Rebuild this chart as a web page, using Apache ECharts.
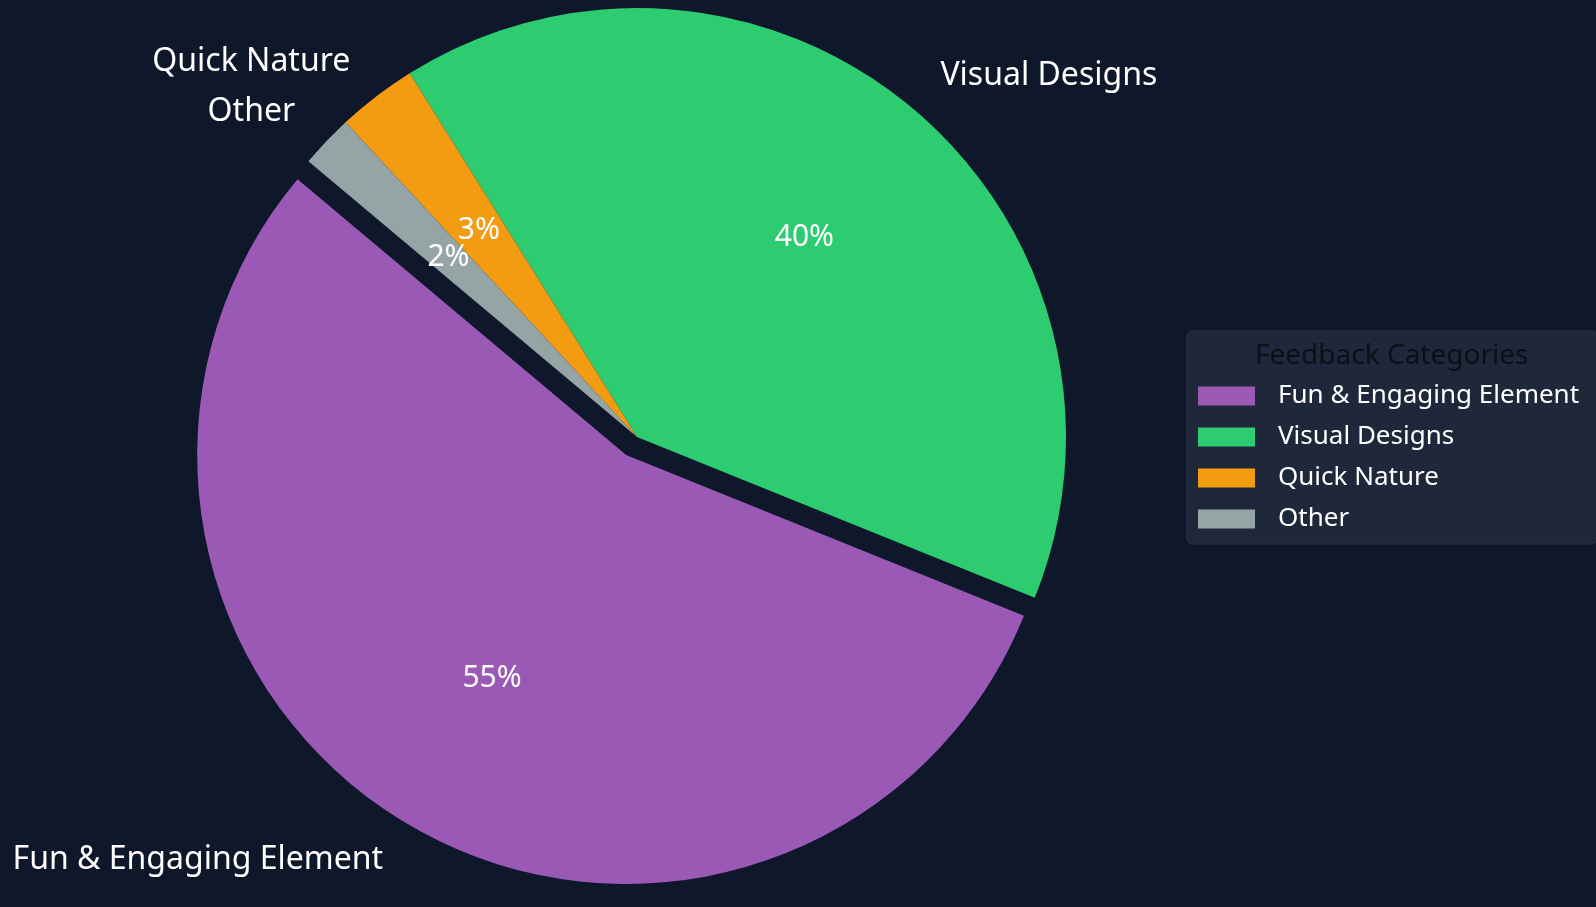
<!DOCTYPE html>
<html>
<head>
<meta charset="utf-8">
<script src="https://cdn.jsdelivr.net/npm/echarts@6/dist/echarts.min.js"></script>
<style>
  html, body { margin: 0; padding: 0; background: #0f172a; }
  #chart { width: 1596px; height: 907px; }
</style>
</head>
<body>
<div id="chart"></div>
<script>
// ---- data ----
const categories = ['Fun & Engaging Element', 'Visual Designs', 'Quick Nature', 'Other'];
const values = [55, 40, 3, 2];
const explodedCategory = 'Fun & Engaging Element';
const legendTitle = 'Feedback Categories';

// ---- styles ----
const palette = ['#9b59b6', '#2ecc71', '#f39c12', '#95a5a6'];
const FONT = 'Noto Sans';
const R = 429;
const CENTER = [637, 437];
const EXPLODE = 21;

const chart = echarts.init(document.getElementById('chart'), null, { renderer: 'canvas' });

const baseData = categories.map((c, i) => ({
  name: c,
  value: values[i],
  selected: c === explodedCategory,
  itemStyle: { color: palette[i] }
}));

const option = {
  backgroundColor: '#0f172a',
  animation: false,
  legend: {
    data: categories,
    orient: 'vertical',
    left: 1187,
    top: 331,
    backgroundColor: '#1e283a',
    borderColor: '#263247',
    borderWidth: 1,
    borderRadius: 5,
    padding: [52, 18, 12, 11],
    itemWidth: 57,
    itemHeight: 19,
    itemGap: 15,
    icon: 'rect',
    selectedMode: false,
    textStyle: { color: '#ffffff', fontSize: 26, fontFamily: FONT, padding: [0, 0, 0, 18] }
  },
  graphic: [{
    type: 'text',
    z: 100,
    left: 1255,
    top: 342,
    style: { text: legendTitle, fill: '#0b0f17', font: '28px "' + FONT + '"', width: 300, textAlign: 'center' }
  }],
  series: [
    {
      type: 'pie',
      center: CENTER,
      radius: [0, R],
      startAngle: 140,
      clockwise: false,
      selectedMode: 'multiple',
      selectedOffset: EXPLODE,
      avoidLabelOverlap: false,
      emphasis: { disabled: true },
      label: {
        show: true,
        position: 'outside',
        formatter: '{b}',
        color: '#ffffff',
        fontSize: 32,
        fontFamily: FONT,
        overflow: 'none',
        distanceToLabelLine: 0
      },
      labelLine: { show: false, length: 43, length2: 0 },
      labelLayout: { hideOverlap: false },
      data: baseData
    },
    {
      type: 'pie',
      center: CENTER,
      radius: [R * 0.2, R],
      startAngle: 140,
      clockwise: false,
      selectedMode: 'multiple',
      selectedOffset: EXPLODE,
      silent: true,
      avoidLabelOverlap: false,
      emphasis: { disabled: true },
      itemStyle: { color: 'rgba(0,0,0,0)' },
      label: {
        show: true,
        position: 'inside',
        formatter: p => Math.round(p.percent) + '%',
        color: '#ffffff',
        fontSize: 30,
        fontFamily: FONT,
        overflow: 'none'
      },
      labelLine: { show: false },
      labelLayout: { hideOverlap: false },
      data: categories.map((c, i) => ({
        name: c,
        value: values[i],
        selected: c === explodedCategory,
        itemStyle: { color: 'rgba(0,0,0,0)' }
      }))
    }
  ]
};
chart.setOption(option);
</script>
</body>
</html>
